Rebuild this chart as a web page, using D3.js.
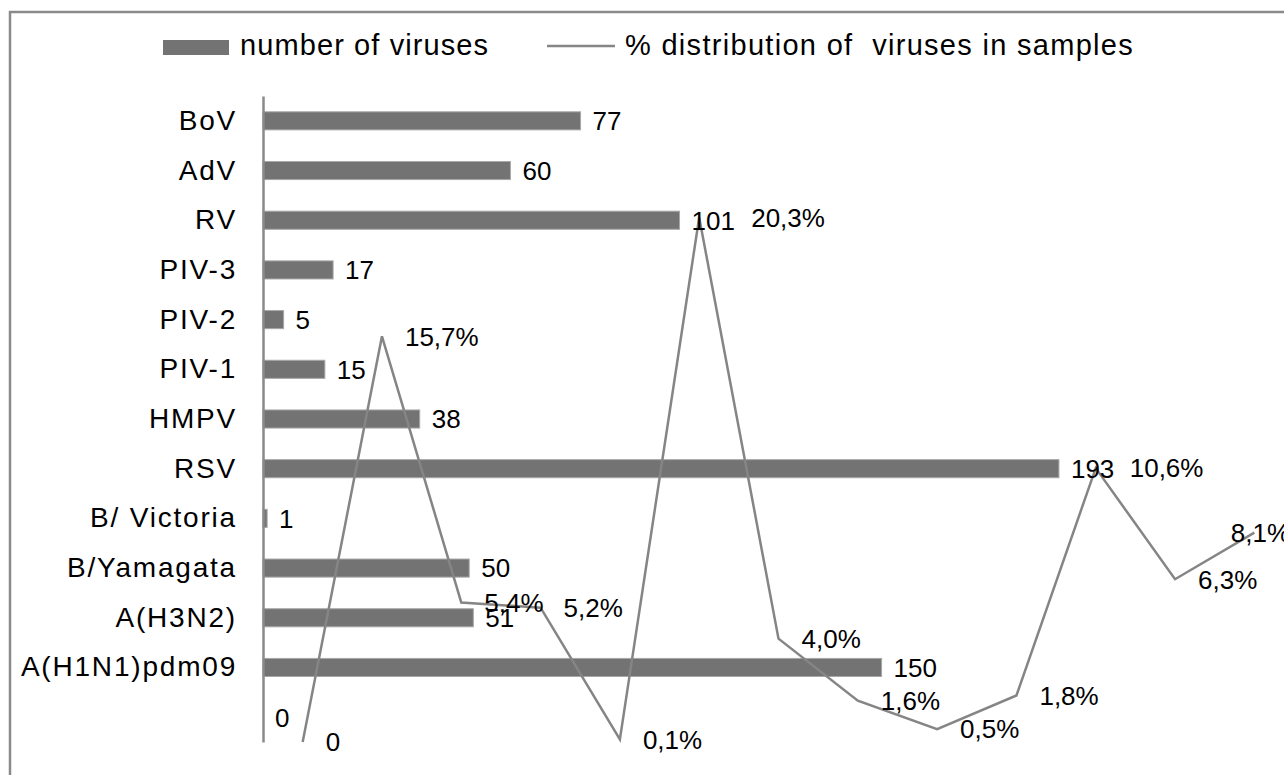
<!DOCTYPE html>
<html>
<head>
<meta charset="utf-8">
<script src="https://cdn.jsdelivr.net/npm/d3@7"></script>
<style>
    body { margin: 0; background: #fff; }
    svg { display: block; font-family: Arial, "Liberation Sans", sans-serif; }
    text { white-space: pre; }
</style>
</head>
<body>
<svg id="chart" width="1284" height="775"></svg>
<script>
// categories top to bottom, last one is the empty slot at the bottom of the axis
const categories = ["BoV", "AdV", "RV", "PIV-3", "PIV-2", "PIV-1", "HMPV", "RSV", "B/ Victoria", "B/Yamagata", "A(H3N2)", "A(H1N1)pdm09", ""];
const virusCounts = [77, 60, 101, 17, 5, 15, 38, 193, 1, 50, 51, 150, 0];
// % distribution, drawn left to right
const percentValues = [0, 15.7, 5.4, 5.2, 0.1, 20.3, 4.0, 1.6, 0.5, 1.8, 10.6, 6.3, 8.1];
const legendLabels = ["number of viruses", "% distribution of  viruses in samples"];

const barColor = "#737373";
const lineColor = "#858585";

const svg = d3.select("#chart");

const margin = { top: 96, left: 263, right: 1294, bottom: 742 };

// chart area border (runs off the right and bottom of the picture)
svg.append("rect")
    .attr("x", 10)
    .attr("y", 12)
    .attr("width", 1300)
    .attr("height", 800)
    .attr("fill", "#fff")
    .attr("stroke", "#8a8a8a")
    .attr("stroke-width", 2.5);

const xScale = d3.scaleLinear()
    .domain([0, 250])
    .range([margin.left, margin.right]);

const yScale = d3.scaleBand()
    .domain(categories.map((c, i) => i))
    .range([margin.top, margin.bottom])
    .paddingInner(0.636)
    .paddingOuter(0.318);

const lineX = d3.scalePoint()
    .domain(percentValues.map((v, i) => i))
    .range([margin.left, margin.right])
    .padding(0.5);

const lineY = d3.scaleLinear()
    .domain([0, 25])
    .range([margin.bottom, margin.top]);

// bars
svg.selectAll(".bar")
    .data(virusCounts)
    .join("rect")
    .attr("class", "bar")
    .attr("x", xScale(0))
    .attr("y", (d, i) => yScale(i))
    .attr("width", d => xScale(d) - xScale(0))
    .attr("height", yScale.bandwidth())
    .attr("fill", barColor)
    .attr("stroke", "#a8a8a8")
    .attr("stroke-width", d => d > 0 ? 1 : 0);

// category axis, no ticks
const yAxis = d3.axisLeft(yScale)
    .tickSize(0)
    .tickPadding(26)
    .tickFormat(i => categories[i]);

const yAxisG = svg.append("g")
    .attr("class", "axis y-axis")
    .attr("transform", `translate(${margin.left},0)`)
    .call(yAxis);

yAxisG.select(".domain")
    .attr("stroke", "#8a8a8a")
    .attr("stroke-width", 2.5);

yAxisG.selectAll("text")
    .attr("font-size", 28)
    .attr("letter-spacing", "1.8px")
    .attr("fill", "#000")
    .attr("font-family", "Arial, 'Liberation Sans', sans-serif");

// percent line
const line = d3.line()
    .x((d, i) => lineX(i))
    .y(d => lineY(d));

svg.append("path")
    .datum(percentValues)
    .attr("fill", "none")
    .attr("stroke", lineColor)
    .attr("stroke-width", 2.5)
    .attr("stroke-linejoin", "miter")
    .attr("d", line);

// bar value labels
svg.selectAll(".bar-label")
    .data(virusCounts)
    .join("text")
    .attr("class", "bar-label")
    .attr("x", d => xScale(d) + 12)
    .attr("y", (d, i) => yScale(i) + yScale.bandwidth() / 2)
    .attr("dy", "0.36em")
    .attr("font-size", 26)
    .attr("fill", "#000")
    .text(d => d);

// percent labels, placed right of the point; a couple were pushed further right
const labelNudge = { 5: 29, 10: 11 };
const formatPercent = v => v === 0 ? "0" : v.toFixed(1).replace(".", ",") + "%";

svg.selectAll(".pct-label")
    .data(percentValues)
    .join("text")
    .attr("class", "pct-label")
    .attr("y", d => lineY(d))
    .attr("dy", "0.36em")
    .attr("font-size", 26)
    .attr("fill", "#000")
    .text(formatPercent)
    .attr("x", function(d, i) {
        const x = lineX(i) + 23 + (labelNudge[i] || 0);
        // keep the label inside the chart area
        return Math.min(x, 1290 - this.getComputedTextLength());
    });

// legend
const legend = svg.append("g").attr("class", "legend");

legend.append("rect")
    .attr("x", 163)
    .attr("y", 40)
    .attr("width", 66)
    .attr("height", 15)
    .attr("fill", barColor);

legend.append("text")
    .attr("x", 240)
    .attr("y", 55)
    .attr("font-size", 29)
    .attr("letter-spacing", "1.1px")
    .attr("fill", "#000")
    .text(legendLabels[0]);

legend.append("line")
    .attr("x1", 547)
    .attr("x2", 615)
    .attr("y1", 46)
    .attr("y2", 46)
    .attr("stroke", lineColor)
    .attr("stroke-width", 2.5);

legend.append("text")
    .attr("x", 625)
    .attr("y", 55)
    .attr("font-size", 29)
    .attr("letter-spacing", "1.3px")
    .attr("fill", "#000")
    .text(legendLabels[1]);
</script>
</body>
</html>
